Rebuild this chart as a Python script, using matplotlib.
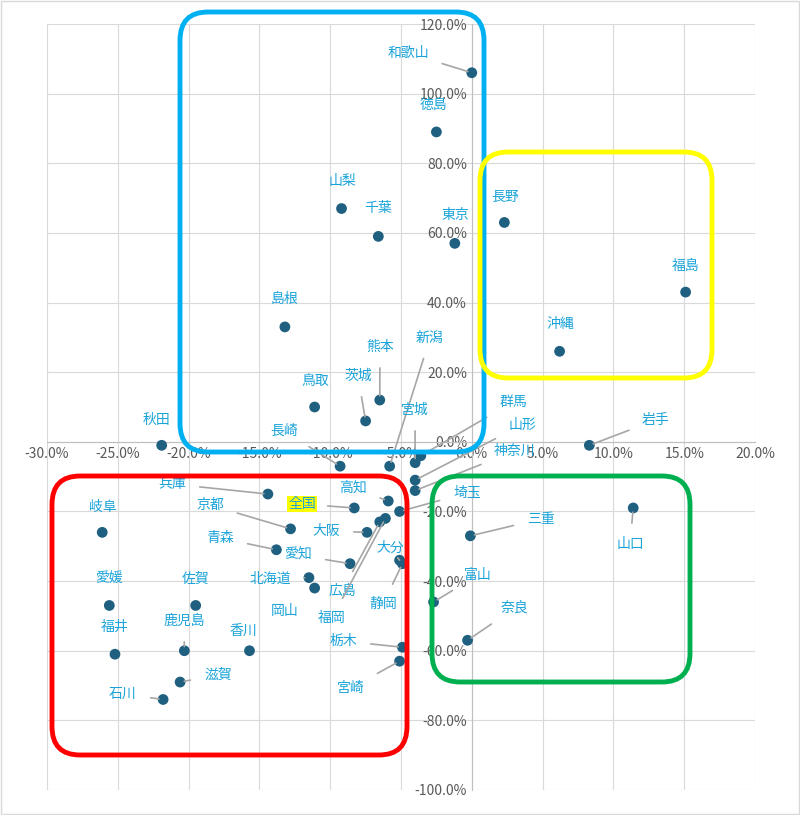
import matplotlib
matplotlib.use("Agg")
import matplotlib.pyplot as plt
from matplotlib.patches import FancyBboxPatch
from matplotlib.ticker import FuncFormatter, MultipleLocator

plt.rcParams['font.family'] = ['Noto Sans CJK JP', 'DejaVu Sans']

names = ["和歌山","徳島","山梨","千葉","東京","長野","福島","島根","沖縄","熊本","新潟","鳥取","茨城","宮城","長崎","秋田",
         "群馬","山形","神奈川","岩手","兵庫","高知","埼玉","全国","京都","岐阜","三重","山口","大阪","大分","青森","愛知",
         "北海道","岡山","広島","静岡","福岡","富山","愛媛","佐賀","奈良","鹿児島","香川","栃木","福井","滋賀","宮崎","石川"]
xv = [0.0,-2.5,-9.2,-6.6,-1.2,2.3,15.1,-13.2,6.2,-6.5,-5.8,-11.1,-7.5,-4.0,-9.3,-21.9,
      -3.6,-4.0,-4.0,8.3,-14.4,-5.9,-5.1,-8.3,-12.8,-26.1,-0.1,11.4,-7.4,-5.1,-13.8,-8.6,
      -11.5,-11.1,-6.5,-4.9,-6.1,-2.7,-25.6,-19.5,-0.3,-20.3,-15.7,-4.9,-25.2,-20.6,-5.1,-21.8]
yv = [106,89,67,59,57,63,43,33,26,12,-7,10,6,-6,-7,-1,
      -4,-11,-14,-1,-15,-17,-20,-19,-25,-26,-27,-19,-26,-34,-31,-35,
      -39,-42,-23,-35,-22,-46,-47,-47,-57,-60,-60,-59,-61,-69,-63,-74]
# label positions in figure pixels (styling)
label_px = {"和歌山":(408,53),"徳島":(434,105),"山梨":(342,181),"千葉":(378,208),"東京":(455,215),"長野":(505,197),
    "福島":(686,266),"島根":(285,299),"沖縄":(560,324),"熊本":(380,347),"新潟":(430,338),"鳥取":(315,381),
    "茨城":(358,376),"宮城":(415,410),"長崎":(284,431),"秋田":(157,420),"群馬":(513,402),"山形":(522,425),
    "神奈川":(515,451),"岩手":(656,420),"兵庫":(172,484),"高知":(353,488),"埼玉":(467,493),"全国":(302,504),
    "京都":(210,505),"岐阜":(103,507),"三重":(541,519),"山口":(630,544),"大阪":(326,531),"大分":(390,548),
    "青森":(220,538),"愛知":(298,555),"北海道":(270,579),"岡山":(285,611),"広島":(342,591),"静岡":(383,604),
    "福岡":(332,618),"富山":(478,575),"愛媛":(109,578),"佐賀":(196,579),"奈良":(515,608),"鹿児島":(184,621),
    "香川":(243,631),"栃木":(343,641),"福井":(115,627),"滋賀":(218,675),"宮崎":(351,688),"石川":(123,694)}
leader = {"和歌山","熊本","新潟","茨城","宮城","長崎","群馬","山形","神奈川","岩手","兵庫","高知","埼玉","全国",
          "京都","三重","山口","大阪","大分","青森","愛知","北海道","広島","静岡","福岡","富山","奈良","鹿児島","栃木",
          "滋賀","宮崎","石川"}

W, H = 800, 815
fig = plt.figure(figsize=(8, 8.15), dpi=100)
ax = fig.add_axes([47/W, 1-790/H, (755-47)/W, (790-24)/H])
ax.set_xlim(-30, 20); ax.set_ylim(-100, 120)

def px2d(px, py):
    return (-30 + (px-47)/(708)*50, 120 - (py-24)/766*220)

ax.xaxis.set_major_locator(MultipleLocator(5)); ax.yaxis.set_major_locator(MultipleLocator(20))
ax.grid(True, color='#D9D9D9', lw=0.8)
ax.set_axisbelow(True)
for s in ['top','right']: ax.spines[s].set_visible(False)
ax.spines['left'].set_position(('data', 0)); ax.spines['bottom'].set_position(('data', 0))
ax.spines['left'].set_color('#BFBFBF'); ax.spines['bottom'].set_color('#BFBFBF')
ax.tick_params(length=0, labelsize=10, colors='#595959')
ax.xaxis.set_major_formatter(FuncFormatter(lambda v,p: f"{v:.1f}%"))
ax.yaxis.set_major_formatter(FuncFormatter(lambda v,p: f"{v:.1f}%"))
for t in ax.get_xticklabels() + ax.get_yticklabels(): t.set_color('#595959')

ax.scatter(xv, yv, s=60, color='#1F5F7F', zorder=5, edgecolors='none')
for n, x, y in zip(names, xv, yv):
    lx, ly = px2d(*label_px[n])
    bbox = dict(boxstyle='square,pad=0.05', fc='#FFFF00', ec='none') if n == "全国" else None
    if n in leader:
        ax.annotate(n, (x, y), xytext=(lx, ly), ha='center', va='center', fontsize=10, color='#1AA3D9',
                    bbox=bbox, arrowprops=dict(arrowstyle='-', color='#A6A6A6', lw=1.2, shrinkA=8, shrinkB=3), zorder=6)
    else:
        ax.text(lx, ly, n, ha='center', va='center', fontsize=10, color='#1AA3D9', bbox=bbox, zorder=6)

rects = [((180,12,484,452),'#00B0F0'),((480,152,712,378),'#FFFF00'),((52,476,407,755),'#FF0000'),((432,476,690,682),'#00B050')]
for (x0,y0,x1,y1), c in rects:
    p = FancyBboxPatch((x0/W, 1-y1/H), (x1-x0)/W, (y1-y0)/H, boxstyle='round,pad=0,rounding_size=0.035',
                       transform=fig.transFigure, fill=False, ec=c, lw=3.5, zorder=10)
    fig.patches.append(p)
fig.patches.append(plt.Rectangle((0.001,0.001),0.998,0.998, transform=fig.transFigure, fill=False, ec='#D9D9D9', lw=1))
fig.savefig("out.png", dpi=100)
